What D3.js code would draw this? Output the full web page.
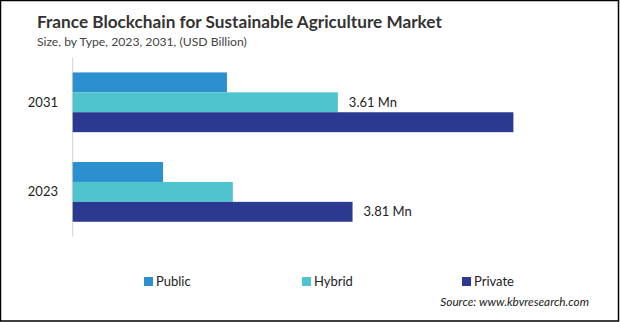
<!DOCTYPE html>
<html>
<head>
<meta charset="utf-8">
<script src="https://cdn.jsdelivr.net/npm/d3@7"></script>
<style>
  body { margin: 0; background: #fff; }
  svg { display: block; font-family: Lato, "Open Sans", sans-serif; }
</style>
</head>
<body>
<div id="chart"></div>
<script>
const W = 620, H = 322;

// market size by type, USD
const years = ["2031", "2023"];
const types = ["Public", "Hybrid", "Private"];
const publicVals = [2.10, 1.23];
const hybridVals = [3.61, 2.18];
const privateVals = [6.00, 3.81];
const colors = ["#2b8fd0", "#4fc4cf", "#2b3990"];

// which bar carries a value label, per year
const labelled = { "2031": "Hybrid", "2023": "Private" };

const rows = years.map((y, i) => ({
    year: y,
    values: [
        { type: "Public", v: publicVals[i] },
        { type: "Hybrid", v: hybridVals[i] },
        { type: "Private", v: privateVals[i] }
    ]
}));

const svg = d3.select("#chart").append("svg")
    .attr("width", W)
    .attr("height", H);

// outer frame
svg.append("rect")
    .attr("x", 0.5).attr("y", 0.5)
    .attr("width", 618).attr("height", 320.5)
    .attr("fill", "none")
    .attr("stroke", "#000")
    .attr("stroke-width", 1.5);

svg.append("text")
    .attr("x", 37).attr("y", 28)
    .attr("font-size", 17.2)
    .attr("font-weight", "bold")
    .attr("fill", "#333")
    .text("France Blockchain for Sustainable Agriculture Market");

svg.append("text")
    .attr("x", 37).attr("y", 46)
    .attr("font-size", 12.2)
    .attr("fill", "#444")
    .text("Size, by Type,  2023, 2031, (USD Billion)");

const x0 = 72.7;
const x = d3.scaleLinear()
    .domain([0, 1])
    .range([x0, x0 + 73.45]);

const y = d3.scaleBand()
    .domain(years)
    .range([57.5, 236.7])
    .paddingInner(1 / 3)
    .paddingOuter(1 / 6);

const yInner = d3.scaleBand()
    .domain(types)
    .range([0, y.bandwidth()]);

// axis line
svg.append("line")
    .attr("x1", x0).attr("x2", x0)
    .attr("y1", 57.5).attr("y2", 236.7)
    .attr("stroke", "#d0d0d0")
    .attr("stroke-width", 1);

const groups = svg.selectAll("g.year")
    .data(rows)
    .join("g")
    .attr("class", "year")
    .attr("transform", d => `translate(0,${y(d.year)})`);

groups.selectAll("rect")
    .data(d => d.values)
    .join("rect")
    .attr("x", x0)
    .attr("y", d => yInner(d.type))
    .attr("width", d => x(d.v) - x0)
    .attr("height", yInner.bandwidth())
    .attr("fill", (d, i) => colors[i]);

groups.selectAll("text.val")
    .data(d => d.values.filter(v => v.type === labelled[d.year]))
    .join("text")
    .attr("class", "val")
    .attr("x", d => x(d.v) + 11)
    .attr("y", d => yInner(d.type) + yInner.bandwidth() / 2)
    .attr("dy", "0.35em")
    .attr("font-size", 13)
    .attr("fill", "#222")
    .text(d => d.v.toFixed(2) + " Mn");

// year labels
svg.selectAll("text.cat")
    .data(years)
    .join("text")
    .attr("class", "cat")
    .attr("x", 58)
    .attr("y", d => y(d) + y.bandwidth() / 2)
    .attr("dy", "0.35em")
    .attr("text-anchor", "end")
    .attr("font-size", 13)
    .attr("fill", "#222")
    .text(d => d);

// legend
const legendX = [144, 302, 462];
const legend = svg.selectAll("g.leg")
    .data(types)
    .join("g")
    .attr("class", "leg")
    .attr("transform", (d, i) => `translate(${legendX[i]},277)`);

legend.append("rect")
    .attr("width", 9).attr("height", 9)
    .attr("fill", (d, i) => colors[i]);

legend.append("text")
    .attr("x", 12).attr("y", 8.5)
    .attr("font-size", 13)
    .attr("fill", "#222")
    .text(d => d);

svg.append("text")
    .attr("x", 589).attr("y", 306)
    .attr("text-anchor", "end")
    .attr("font-size", 11.8)
    .attr("font-style", "italic")
    .attr("fill", "#222")
    .text("Source: www.kbvresearch.com");
</script>
</body>
</html>
